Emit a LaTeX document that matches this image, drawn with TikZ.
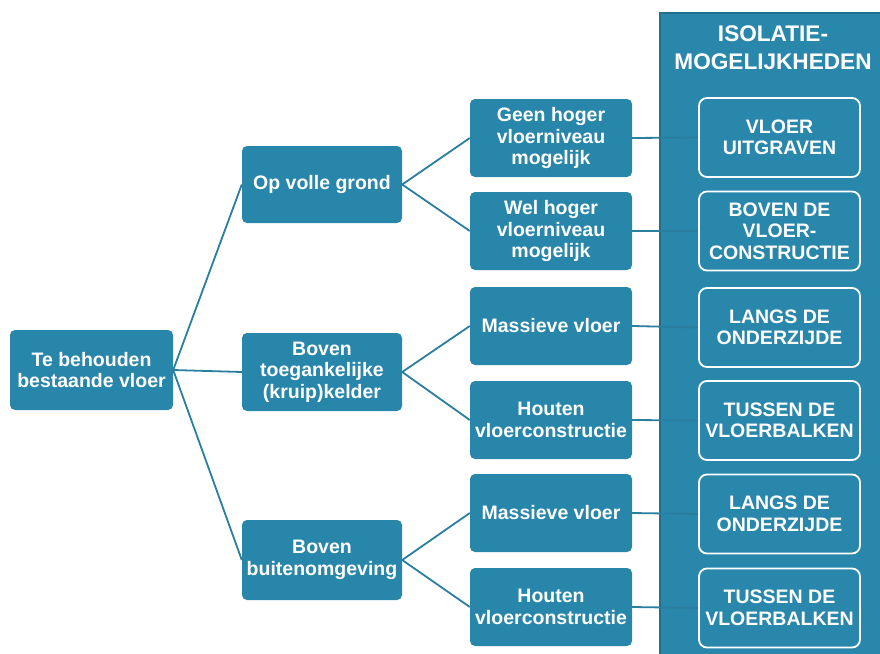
\documentclass[tikz,border=0pt]{standalone}
\usepackage{fontspec}
\setmainfont{Liberation Sans}
\definecolor{boxfill}{HTML}{2886AA}
\definecolor{panelfill}{HTML}{2887AB}
\definecolor{panelborder}{HTML}{1F6F8D}
\definecolor{linkcol}{HTML}{2A7E9E}
\begin{document}
\begin{tikzpicture}[x=1pt,y=-1pt,
  tbox/.style={fill=boxfill, rounded corners=5pt, text=white, align=center,
    font=\fontsize{19.5}{21.5}\selectfont\bfseries, inner sep=0pt,
    minimum width=162pt, minimum height=78pt},
  obox/.style={draw=white, line width=1.8pt, fill=panelfill, rounded corners=8pt,
    text=white, align=center, font=\fontsize{19.5}{21.5}\selectfont\bfseries,
    inner sep=0pt, minimum width=161pt, minimum height=79pt},
  link/.style={draw=linkcol, line width=1.8pt}]
\useasboundingbox (0,0) rectangle (880,653);
% panel
\path[fill=panelfill, draw=panelborder, line width=2pt] (660,13) rectangle (884,658);
\node[text=white, align=center, font=\fontsize{22.6}{28}\selectfont\bfseries] (head) at (773,48) {ISOLATIE-\\MOGELIJKHEDEN};
% level 1
\node[tbox, minimum width=163pt, minimum height=80pt] (root) at (91.5,370) {Te behouden\\bestaande vloer};
% level 2
\node[tbox, minimum width=160pt, minimum height=77pt] (a) at (322,184.5) {Op volle grond};
\node[tbox, minimum width=160pt, minimum height=78pt] (b) at (322,372) {Boven\\toegankelijke\\(kruip)kelder};
\node[tbox, minimum width=160pt, minimum height=80pt] (c) at (322,560) {Boven\\buitenomgeving};
% level 3
\node[tbox] (a1) at (551,138) {Geen hoger\\vloerniveau\\mogelijk};
\node[tbox] (a2) at (551,231) {Wel hoger\\vloerniveau\\mogelijk};
\node[tbox] (b1) at (551,326) {Massieve vloer};
\node[tbox] (b2) at (551,420) {Houten\\vloerconstructie};
\node[tbox] (c1) at (551,513) {Massieve vloer};
\node[tbox] (c2) at (551,607) {Houten\\vloerconstructie};
% outcomes
\node[obox] (r1) at (779.5,137.5) {VLOER\\UITGRAVEN};
\node[obox] (r2) at (779.5,231) {BOVEN DE\\VLOER-\\CONSTRUCTIE};
\node[obox] (r3) at (779.5,327.5) {LANGS DE\\ONDERZIJDE};
\node[obox] (r4) at (779.5,420.5) {TUSSEN DE\\VLOERBALKEN};
\node[obox] (r5) at (779.5,514) {LANGS DE\\ONDERZIJDE};
\node[obox] (r6) at (779.5,608) {TUSSEN DE\\VLOERBALKEN};
% connectors
\draw[link] (root.east) -- (a.west);
\draw[link] (root.east) -- (b.west);
\draw[link] (root.east) -- (c.west);
\draw[link] (a.east) -- (a1.west);
\draw[link] (a.east) -- (a2.west);
\draw[link] (b.east) -- (b1.west);
\draw[link] (b.east) -- (b2.west);
\draw[link] (c.east) -- (c1.west);
\draw[link] (c.east) -- (c2.west);
\draw[link] (a1.east) -- (r1.west);
\draw[link] (a2.east) -- (r2.west);
\draw[link] (b1.east) -- (r3.west);
\draw[link] (b2.east) -- (r4.west);
\draw[link] (c1.east) -- (r5.west);
\draw[link] (c2.east) -- (r6.west);
\end{tikzpicture}
\end{document}
